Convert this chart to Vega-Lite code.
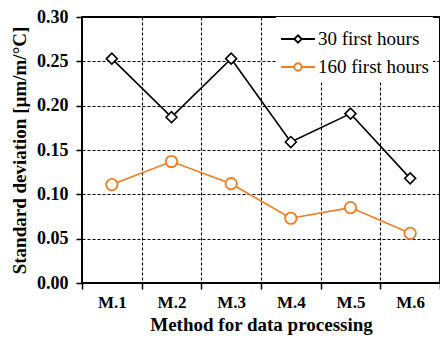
{
  "$schema": "https://vega.github.io/schema/vega-lite/v6.json",
  "width": 358,
  "height": 266,
  "autosize": {"type": "none"},
  "padding": {"left": 82, "top": 17, "right": 0, "bottom": 55},
  "background": "white",
  "config": {
    "font": "Liberation Serif",
    "view": {"stroke": "black", "strokeWidth": 2},
    "axis": {
      "domain": false,
      "grid": true,
      "gridColor": "black",
      "gridDash": [3, 2],
      "gridWidth": 1.1,
      "gridOpacity": 1,
      "tickColor": "black",
      "tickWidth": 1.5,
      "tickSize": 6,
      "labelColor": "black",
      "labelFont": "Liberation Serif",
      "labelFontSize": 17,
      "labelFontWeight": "bold",
      "titleColor": "black",
      "titleFont": "Liberation Serif",
      "titleFontSize": 19,
      "titleFontWeight": "bold"
    },
    "legend": {
      "labelFont": "Liberation Serif",
      "labelFontSize": 19,
      "labelFontWeight": "normal",
      "labelColor": "black"
    }
  },
  "data": {
    "values": [
      {"method": "M.1", "series": "30 first hours", "sd": 0.253},
      {"method": "M.2", "series": "30 first hours", "sd": 0.187},
      {"method": "M.3", "series": "30 first hours", "sd": 0.253},
      {"method": "M.4", "series": "30 first hours", "sd": 0.159},
      {"method": "M.5", "series": "30 first hours", "sd": 0.191},
      {"method": "M.6", "series": "30 first hours", "sd": 0.118},
      {"method": "M.1", "series": "160 first hours", "sd": 0.111},
      {"method": "M.2", "series": "160 first hours", "sd": 0.137},
      {"method": "M.3", "series": "160 first hours", "sd": 0.112},
      {"method": "M.4", "series": "160 first hours", "sd": 0.073},
      {"method": "M.5", "series": "160 first hours", "sd": 0.085},
      {"method": "M.6", "series": "160 first hours", "sd": 0.056}
    ]
  },
  "encoding": {
    "x": {
      "field": "method",
      "type": "nominal",
      "sort": null,
      "scale": {"paddingInner": 0, "paddingOuter": 0},
      "axis": {
        "title": "Method for data processing",
        "labelAngle": 0,
        "tickBand": "extent",
        "labelPadding": 5,
        "titlePadding": 5
      }
    },
    "y": {
      "field": "sd",
      "type": "quantitative",
      "scale": {"domain": [0, 0.3], "nice": false, "zero": true},
      "axis": {
        "title": "Standard deviation [µm/m/°C]",
        "values": [0, 0.05, 0.1, 0.15, 0.2, 0.25, 0.3],
        "format": ".2f",
        "labelFontSize": 18,
        "labelPadding": 8,
        "titlePadding": 7
      }
    }
  },
  "layer": [
    {
      "mark": {"type": "line", "strokeWidth": 1.6},
      "encoding": {
        "color": {
          "field": "series",
          "type": "nominal",
          "scale": {
            "domain": ["30 first hours", "160 first hours"],
            "range": ["#000000", "#F07C22"]
          },
          "legend": {
            "title": null,
            "orient": "none",
            "legendX": 194,
            "legendY": 0,
            "padding": 4,
            "fillColor": "white",
            "symbolSize": 1156,
            "symbolStrokeWidth": 1.8,
            "rowPadding": -3,
            "labelOffset": 2,
            "labelFont": "Liberation Serif",
            "labelFontSize": 19,
            "labelColor": "black",
            "labelLimit": 200,
            "encode": {
              "labels": {
                "update": {
                  "font": {"value": "Liberation Serif"},
                  "fontSize": {"value": 19},
                  "fontWeight": {"value": "normal"}
                }
              },
              "symbols": {
                "update": {
                  "shape": {"signal": "datum.value === '30 first hours' ? 'M-1,0L-0.22,0M0.22,0L1,0M0,-0.22L0.22,0L0,0.22L-0.22,0Z' : 'M-1,0L-0.22,0M0.22,0L1,0M-0.22,0A0.22,0.22,0,1,0,0.22,0A0.22,0.22,0,1,0,-0.22,0Z'"},
                  "fill": {"value": "white"},
                  "fillOpacity": {"value": 1}
                }
              }
            }
          }
        }
      }
    },
    {
      "transform": [{"filter": "datum.series === '30 first hours'"}],
      "mark": {"type": "point", "shape": "diamond", "size": 120, "filled": false, "stroke": "#000000", "fill": "white", "fillOpacity": 1, "opacity": 1, "strokeWidth": 1.6}
    },
    {
      "transform": [{"filter": "datum.series === '160 first hours'"}],
      "mark": {"type": "point", "shape": "circle", "size": 130, "filled": false, "stroke": "#F07C22", "fill": "white", "fillOpacity": 1, "opacity": 1, "strokeWidth": 1.8}
    }
  ]
}
